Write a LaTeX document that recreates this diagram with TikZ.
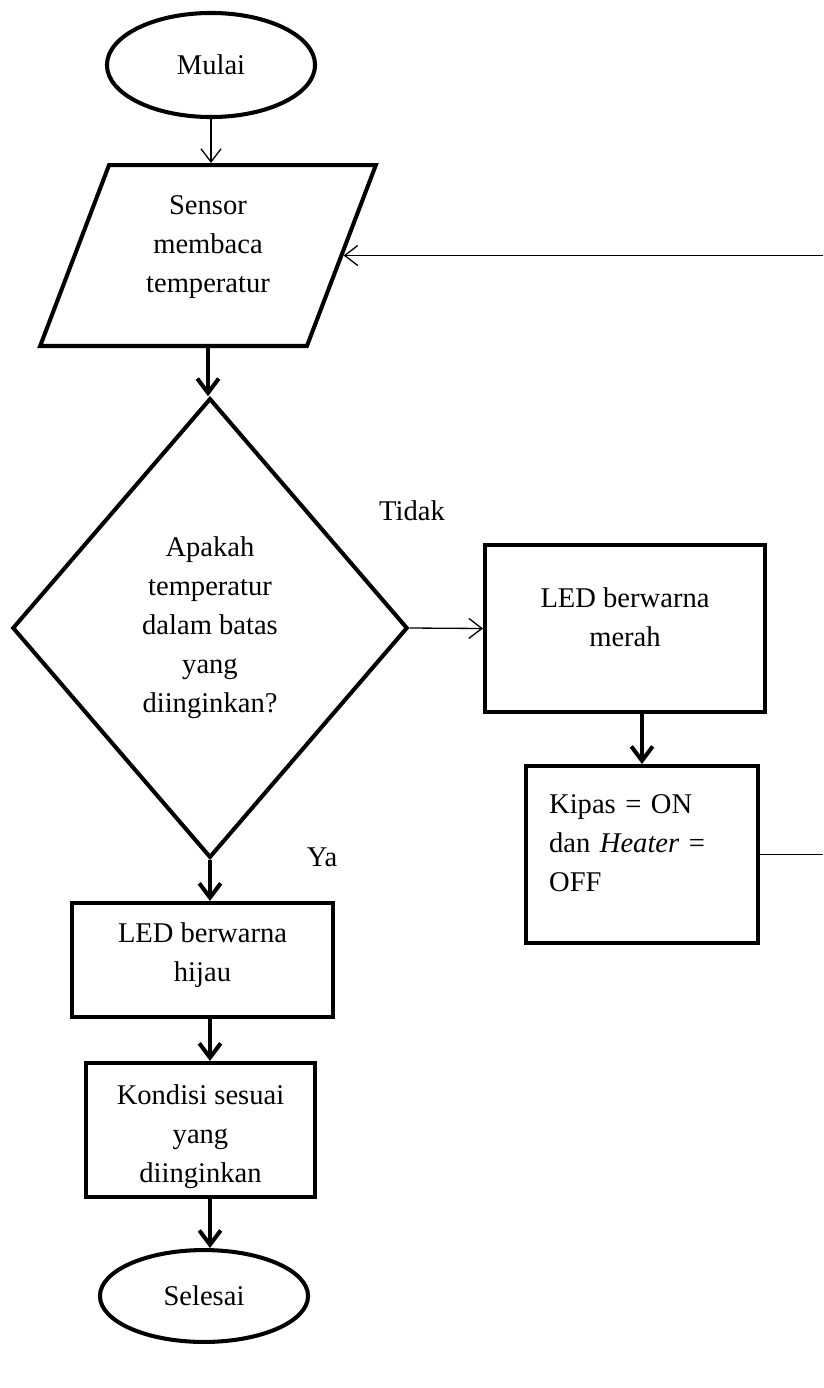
\documentclass[tikz,border=0pt]{standalone}
\usepackage{fontspec}
\setmainfont{Liberation Serif}
\usetikzlibrary{shapes.geometric,arrows.meta}

\tikzset{
  termnode/.style={draw, ellipse, line width=1.7pt, minimum width=87.4pt, minimum height=43.7pt, inner sep=0pt},
  flowbox/.style={draw, rectangle, line width=1.7pt, align=center, inner sep=0pt},
  flowthick/.style={line width=1.7pt, -{Straight Barb[length=6pt,width=9pt]}},
  flowthin/.style={line width=0.55pt, -{Straight Barb[length=5.5pt,width=8.4pt]}},
}

\begin{document}
\begin{tikzpicture}[x=0.42pt, y=-0.42pt, font=\fontsize{12}{16.4}\selectfont]
			%%%%% START %%%%%
			\useasboundingbox (0, 0) rectangle (823, 1388);
			\coordinate (kanan) at (823, 0);
			
			\node[termnode] (mulai) at (211, 65) {Mulai};
			\node[draw, trapezium, trapezium left angle=60, trapezium right angle=120, trapezium stretches body, line width=1.7pt, minimum width=141pt, minimum height=76pt, align=center, inner sep=0pt] (sensor) at (208, 255.5) {Sensor\\membaca\\temperatur\rule[-9.4pt]{0pt}{0pt}};
			
			\node[draw, diamond, aspect=0.86, line width=1.7pt, minimum width=166pt, minimum height=193pt, align=center, inner sep=0pt] (cek) at (210, 628) {Apakah\\temperatur\\dalam batas\\yang\\diinginkan?};
			\node (tidak) at (412, 511) {Tidak};
			\node (ya) at (322, 857) {Ya};
			
			\node[flowbox, minimum width=117.6pt, minimum height=70pt] (merah) at (625, 628.5) {LED berwarna\\merah\rule[-9.2pt]{0pt}{0pt}};
			\node[flowbox, minimum width=97.4pt, minimum height=74.3pt, align=left, text width=78pt, inner xsep=9.7pt] (kipas) at (642, 854.5) {Kipas = ON\\dan \textit{Heater} =\\OFF\rule[-10pt]{0pt}{0pt}};
			
			\node[flowbox, minimum width=109.6pt, minimum height=47.9pt] (hijau) at (202.5, 960) {LED berwarna\\hijau\rule[-6.8pt]{0pt}{0pt}};
			\node[flowbox, minimum width=96.2pt, minimum height=56.3pt] (kondisi) at (200.5, 1130) {\rule{0pt}{14.1pt}Kondisi sesuai\\yang\\diinginkan};
			\node[termnode, minimum height=38.6pt] (selesai) at (204, 1296) {Selesai};
			
			\draw[flowthin] (mulai.south) -- (mulai.south |- sensor.north);
			\draw[flowthick] (sensor.south) -- (sensor.south |- cek.north);
			\draw[flowthick] (cek.south) -- (cek.south |- hijau.north);
			\draw[flowthick] (hijau.south -| cek.south) -- (kondisi.north -| cek.south);
			\draw[flowthick] (kondisi.south -| cek.south) -- (selesai.north -| cek.south);
			
			\draw[flowthin] (cek.east) -- (merah.west);
			\draw[flowthick] (kipas.north |- merah.south) -- (kipas.north);
			\draw[line width=0.55pt] (kipas.east) -- (kipas.east -| kanan);
			\draw[flowthin] (sensor.east -| kanan) -- (sensor.east);
			
			%%%%% END %%%%%
		\end{tikzpicture}
\end{document}
